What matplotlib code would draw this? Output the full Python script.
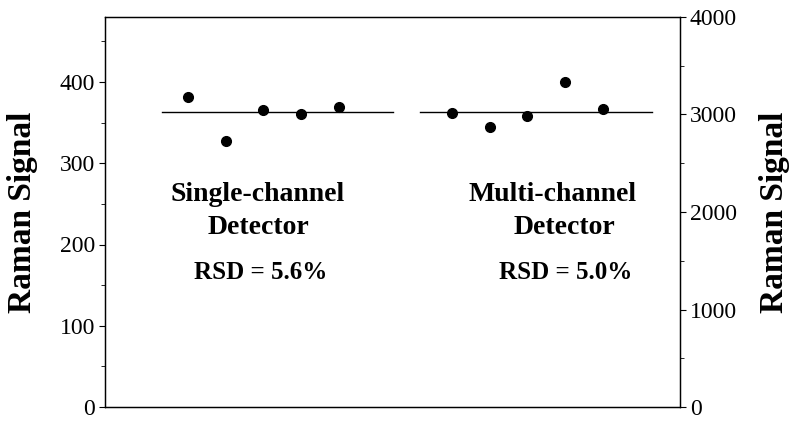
import numpy as np
import matplotlib
matplotlib.use('Agg')
import matplotlib.pyplot as plt
from matplotlib.ticker import MultipleLocator

plt.rcParams['font.family'] = ['Liberation Serif', 'DejaVu Serif']

# data
single_x = [1, 2, 3, 4, 5]
single_y = [381, 327, 366, 361, 369]
single_mean = 363

multi_x = [8, 9, 10, 11, 12]
multi_y = [3012, 2869, 2985, 3333, 3060]
multi_mean = 3029

left_ticks = [0, 100, 200, 300, 400]
right_ticks = [0, 1000, 2000, 3000, 4000]

fig = plt.figure(figsize=(8, 4.21), dpi=100)
ax = fig.add_axes([105/800, 14/421, 575/800, 390/421])
ax2 = ax.twinx()

ax.set_xlim(-1.2, 14.05)
ax.set_ylim(0, 480)
ax2.set_ylim(0, 4000)

# points and mean lines
ax.plot(single_x, single_y, 'o', color='black', markersize=7)
ax.plot([0.3, 6.45], [single_mean, single_mean], color='black', lw=1)
ax2.plot(multi_x, multi_y, 'o', color='black', markersize=7)
ax2.plot([7.15, 13.3], [multi_mean, multi_mean], color='black', lw=1)

ax.set_xticks([])
ax.set_yticks(left_ticks)
ax.yaxis.set_minor_locator(MultipleLocator(50))
ax2.set_yticks(right_ticks)
ax2.yaxis.set_minor_locator(MultipleLocator(500))

for a in (ax, ax2):
    a.tick_params(axis='y', which='major', direction='out', length=4, width=0.8,
                  labelsize=17, pad=3)
    a.tick_params(axis='y', which='minor', direction='out', length=3, width=0.6)
    for s in a.spines.values():
        s.set_linewidth(0.9)

ax.set_ylabel('Raman Signal', fontsize=24, fontweight='bold', labelpad=16)
ax2.set_ylabel('Raman Signal', fontsize=24, fontweight='bold', labelpad=16)

# annotations
ax.text(2.86, 261, 'Single-channel', ha='center', va='center',
        fontsize=20, fontweight='bold')
ax.text(2.86, 221, 'Detector', ha='center', va='center',
        fontsize=20, fontweight='bold')
ax.text(2.94, 166, 'RSD = 5.6%', ha='center', va='center',
        fontsize=18, fontweight='bold')
ax.text(10.66, 261, 'Multi-channel', ha='center', va='center',
        fontsize=20, fontweight='bold')
ax.text(10.98, 221, 'Detector', ha='center', va='center',
        fontsize=20, fontweight='bold')
ax.text(11.03, 166, 'RSD = 5.0%', ha='center', va='center',
        fontsize=18, fontweight='bold')

fig.savefig('out.png', dpi=100)
